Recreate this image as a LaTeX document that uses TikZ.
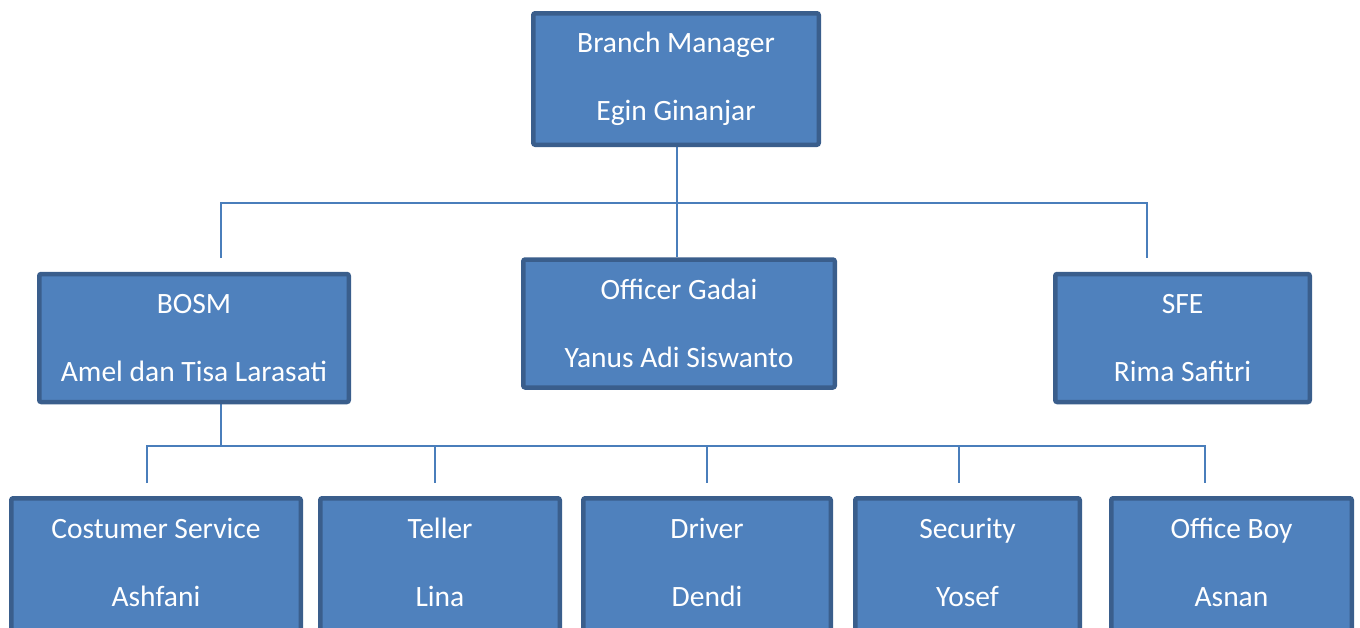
\documentclass[tikz,border=0pt]{standalone}
\usepackage{fontspec}
\setmainfont{Carlito}
\usetikzlibrary{backgrounds}
\definecolor{boxfill}{HTML}{4F81BD}
\definecolor{boxline}{HTML}{3A5E8C}
\definecolor{linkline}{HTML}{4A7EBB}
\begin{document}
\begin{tikzpicture}[x=1pt,y=-1pt,
		post/.style={draw=boxline, line width=4.5pt, fill=boxfill, rounded corners=2pt,
			text=white, align=center, inner sep=0pt, minimum height=128pt,
			font=\fontsize{29.5}{68}\selectfont},
		staff/.style={post, minimum height=136pt, text depth=8pt},
		link/.style={draw=linkline, line width=2pt}]
		\clip (0,0) rectangle (1360,627);
		
		% Top level
		\node[post, minimum width=285.5pt, minimum height=131.5pt] (bm) at (676,79) {Branch Manager\\Egin Ginanjar};
		
		% Second level
		\node[post, minimum width=309.5pt] (bosm) at (194,338) {BOSM\\Amel dan Tisa Larasati};
		\node[post, minimum width=311.5pt] (og) at (679,323.5) {Officer Gadai\\Yanus Adi Siswanto};
		\node[post, minimum width=254.5pt] (sfe) at (1182.5,338) {SFE\\Rima Safitri};
		
		% Third level
		\node[staff, minimum width=289.5pt] (cs) at (156,566.25) {Costumer Service\\Ashfani};
		\node[staff, minimum width=239.5pt] (teller) at (440,566.25) {Teller\\Lina};
		\node[staff, minimum width=247.5pt] (driver) at (707,566.25) {Driver\\Dendi};
		\node[staff, minimum width=224.5pt] (security) at (967.5,566.25) {Security\\Yosef};
		\node[staff, minimum width=240.5pt] (officeboy) at (1231.5,566.25) {Office Boy\\Asnan};
		
		% Connector ends
		\coordinate (rowa) at (677,203);
		\coordinate (bosmin) at (221,258);
		\coordinate (sfein) at (1147,258);
		\coordinate (rowb) at (221,446);
		\coordinate (csin) at (147,483);
		\coordinate (tellerin) at (435,483);
		\coordinate (driverin) at (707,483);
		\coordinate (securityin) at (959,483);
		\coordinate (officeboyin) at (1205,483);
		
		\begin{scope}[on background layer]
			% Branch Manager to second level
			\draw[link] (bm.south -| rowa) -- (og.north -| rowa);
			\draw[link] (bosmin) |- (rowa -| sfein) -- (sfein);
			
			% BOSM to third level
			\draw[link] (bosm.south -| rowb) -- (rowb);
			\draw[link] (csin) |- (officeboyin |- rowb) -- (officeboyin);
			\foreach \n in {tellerin,driverin,securityin}
				\draw[link] (\n |- rowb) -- (\n);
		\end{scope}
	\end{tikzpicture}
\end{document}
